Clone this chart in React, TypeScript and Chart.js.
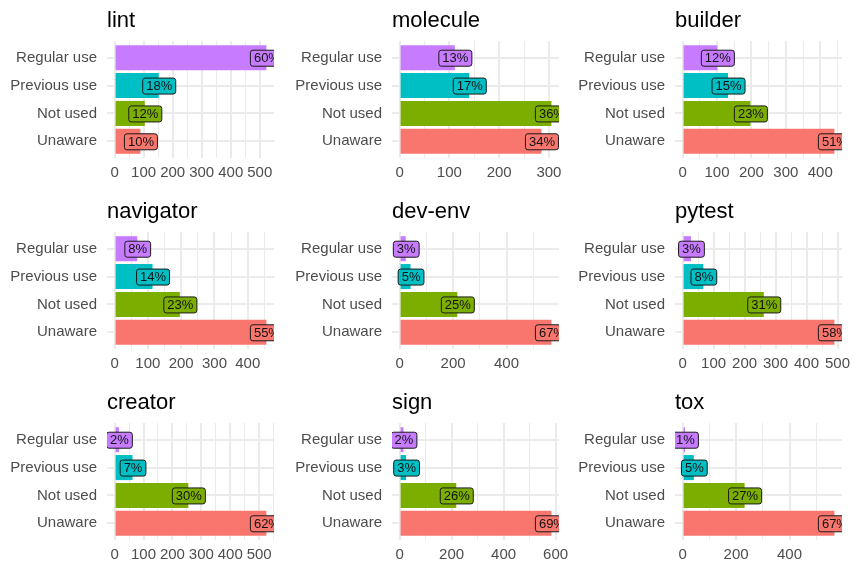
import React, { useEffect, useRef } from "react";
import { Chart, registerables } from "chart.js";

Chart.register(...registerables);

// Category order: bottom -> top
const categories = ["Unaware", "Not used", "Previous use", "Regular use"];
const categoryColors = ["#F8766D", "#7CAE00", "#00BFC4", "#C77CFF"];

const panelTitles = ["lint", "molecule", "builder", "navigator", "dev-env", "pytest", "creator", "sign", "tox"];

const lintCounts = [89, 104, 152, 523];
const moleculeCounts = [285, 305, 140, 111];
const builderCounts = [441, 197, 132, 101];
const navigatorCounts = [456, 196, 114, 68];
const devEnvCounts = [568, 216, 41, 23];
const pytestCounts = [490, 262, 67, 27];
const creatorCounts = [525, 255, 62, 15];
const signCounts = [584, 218, 25, 15];
const toxCounts = [568, 232, 42, 9];

const lintPct = [10, 12, 18, 60];
const moleculePct = [34, 36, 17, 13];
const builderPct = [51, 23, 15, 12];
const navigatorPct = [55, 23, 14, 8];
const devEnvPct = [67, 25, 5, 3];
const pytestPct = [58, 31, 8, 3];
const creatorPct = [62, 30, 7, 2];
const signPct = [69, 26, 3, 2];
const toxPct = [67, 27, 5, 1];

const tickSteps = [100, 100, 100, 100, 200, 100, 100, 200, 200];

const allCounts = [lintCounts, moleculeCounts, builderCounts, navigatorCounts, devEnvCounts, pytestCounts, creatorCounts, signCounts, toxCounts];
const allPct = [lintPct, moleculePct, builderPct, navigatorPct, devEnvPct, pytestPct, creatorPct, signPct, toxPct];

const FONT = "'Liberation Sans', Arial, Helvetica, sans-serif";
const CANVAS_W = 285;
const CANVAS_H = 191;
const colLefts = [0, 285, 568];
const rowTops = [0, 191, 382];

function roundRectPath(ctx: CanvasRenderingContext2D, x: number, y: number, w: number, h: number, r: number) {
  ctx.beginPath();
  ctx.moveTo(x + r, y);
  ctx.lineTo(x + w - r, y);
  ctx.quadraticCurveTo(x + w, y, x + w, y + r);
  ctx.lineTo(x + w, y + h - r);
  ctx.quadraticCurveTo(x + w, y + h, x + w - r, y + h);
  ctx.lineTo(x + r, y + h);
  ctx.quadraticCurveTo(x, y + h, x, y + h - r);
  ctx.lineTo(x, y + r);
  ctx.quadraticCurveTo(x, y, x + r, y);
  ctx.closePath();
}

function Panel({ index }: { index: number }) {
  const ref = useRef<HTMLCanvasElement | null>(null);
  useEffect(() => {
    const canvas = ref.current;
    if (!canvas) return;
    const vals = allCounts[index];
    const pcts = allPct[index];
    const step = tickSteps[index];
    const title = panelTitles[index];
    const max = Math.max(...vals);
    const xmin = -0.05 * max;
    const xmax = 1.05 * max;

    const labelPlugin = {
      id: "barLabels",
      afterDatasetsDraw(chart: any) {
        const ctx = chart.ctx as CanvasRenderingContext2D;
        const area = chart.chartArea;
        const meta = chart.getDatasetMeta(0);
        ctx.save();
        ctx.beginPath();
        ctx.rect(area.left, area.top, area.right - area.left, area.bottom - area.top);
        ctx.clip();
        ctx.font = `13px ${FONT}`;
        meta.data.forEach((el: any, i: number) => {
          const text = `${pcts[i]}%`;
          const tw = ctx.measureText(text).width;
          const bw = tw + 7;
          const bh = 16;
          const x0 = el.x - bw / 2;
          const y0 = el.y - bh / 2;
          roundRectPath(ctx, x0 + 0.5, y0 + 0.5, bw, bh, 2.5);
          ctx.fillStyle = categoryColors[i];
          ctx.fill();
          ctx.lineWidth = 1;
          ctx.strokeStyle = "#1a1a1a";
          ctx.stroke();
          ctx.fillStyle = "#111";
          ctx.textAlign = "center";
          ctx.textBaseline = "middle";
          ctx.fillText(text, el.x + 0.5, el.y + 1);
        });
        ctx.restore();
      },
    };

    const titlePlugin = {
      id: "panelTitle",
      afterDraw(chart: any) {
        const ctx = chart.ctx as CanvasRenderingContext2D;
        ctx.save();
        ctx.font = `22px ${FONT}`;
        ctx.fillStyle = "#000";
        ctx.textAlign = "left";
        ctx.textBaseline = "alphabetic";
        ctx.fillText(title, chart.chartArea.left, 27);
        ctx.restore();
      },
    };

    const chart = new Chart(canvas, {
      type: "bar",
      data: {
        datasets: [
          {
            data: vals.map((v, i) => ({ x: v, y: i + 1 })),
            backgroundColor: categoryColors,
            borderWidth: 0,
            barPercentage: 0.9,
            categoryPercentage: 1,
          } as any,
        ],
      },
      options: {
        indexAxis: "y",
        animation: false,
        responsive: false,
        maintainAspectRatio: false,
        layout: { padding: { top: 41, right: 11, left: 0, bottom: 0 } },
        plugins: {
          legend: { display: false },
          tooltip: { enabled: false },
          title: { display: false },
        },
        scales: {
          x: {
            type: "linear",
            min: xmin,
            max: xmax,
            offset: false,
            border: { display: false },
            grid: {
              color: "#EBEBEB",
              drawTicks: false,
              offset: false,
              lineWidth: (c: any) => (c.tick && Math.abs(c.tick.value % step) < 1e-6 ? 2 : 1),
            },
            ticks: {
              color: "#4D4D4D",
              font: { family: FONT, size: 15 },
              padding: 6,
              autoSkip: false,
              maxRotation: 0,
              callback: (v: any) => (Math.abs(Number(v) % step) < 1e-6 ? String(v) : ""),
            },
            afterBuildTicks: (s: any) => {
              const half = step / 2;
              const t: any[] = [];
              for (let v = Math.ceil(xmin / half) * half; v <= xmax + 1e-9; v += half) {
                t.push({ value: v });
              }
              s.ticks = t;
            },
            afterFit: (s: any) => {
              s.height = CANVAS_H - 158;
              s.paddingLeft = 0;
              s.paddingRight = 0;
            },
          },
          y: {
            type: "linear",
            min: 0.4,
            max: 4.6,
            offset: false,
            border: { display: false },
            grid: { color: "#EBEBEB", drawTicks: false, lineWidth: 2, offset: false },
            ticks: {
              color: "#4D4D4D",
              font: { family: FONT, size: 15 },
              padding: 10,
              autoSkip: false,
              callback: (v: any) => categories[Math.round(Number(v)) - 1] ?? "",
            },
            afterBuildTicks: (s: any) => {
              s.ticks = categories.map((_, i) => ({ value: i + 1 }));
            },
            afterFit: (s: any) => {
              s.width = 107;
              s.paddingTop = 0;
              s.paddingBottom = 0;
            },
          },
        },
      } as any,
      plugins: [labelPlugin, titlePlugin],
    });
    return () => chart.destroy();
  }, [index]);

  const col = index % 3;
  const row = Math.floor(index / 3);
  return (
    <canvas
      ref={ref}
      width={CANVAS_W}
      height={CANVAS_H}
      style={{ position: "absolute", left: colLefts[col], top: rowTops[row], width: CANVAS_W, height: CANVAS_H }}
    />
  );
}

export default function App() {
  return (
    <div style={{ position: "absolute", left: 0, top: 0, width: 854, height: 564, background: "#fff", overflow: "hidden" }}>
      {panelTitles.map((_, i) => (
        <Panel key={i} index={i} />
      ))}
    </div>
  );
}
